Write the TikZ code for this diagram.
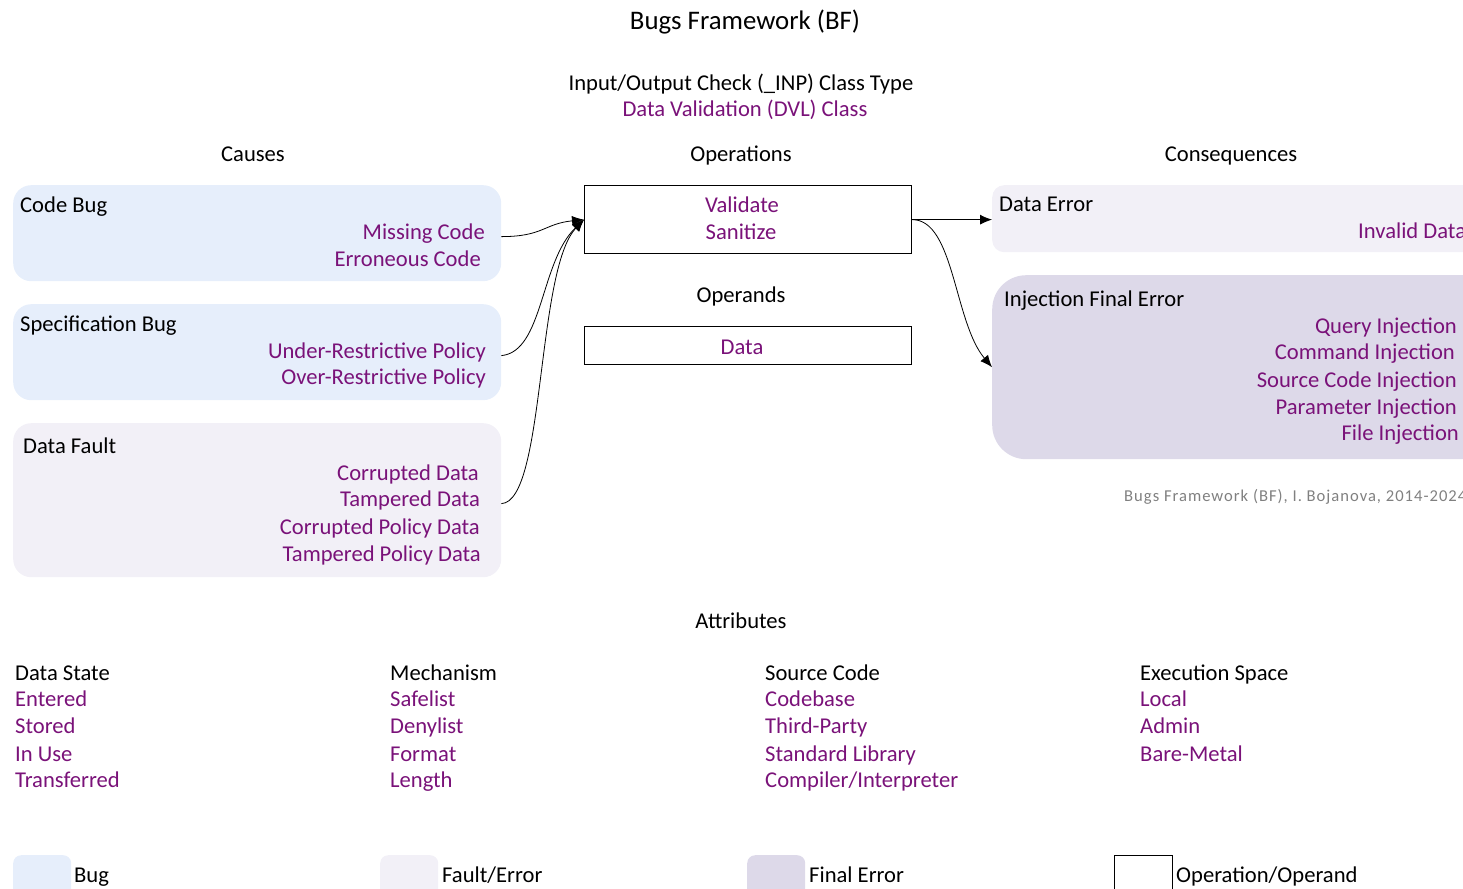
\documentclass[tikz,border=0pt]{standalone}
\usepackage{fontspec}
\setmainfont{Carlito}
\newfontfamily\footfont[LetterSpace=6]{Carlito}
\usetikzlibrary{arrows.meta}
\definecolor{bfpurple}{HTML}{7A1279}
\definecolor{bugfill}{HTML}{E6EEFB}
\definecolor{faultfill}{HTML}{F2F0F7}
\definecolor{finalfill}{HTML}{DDD9E9}
\definecolor{footgray}{HTML}{808080}

\begin{document}
\begin{tikzpicture}[x=1pt,y=-1pt,
  font=\fontsize{22.6}{27}\selectfont,
  lbl/.style={inner sep=0pt, anchor=base west},
  lblc/.style={inner sep=0pt, anchor=base},
  item/.style={inner sep=0pt, anchor=base east, text=bfpurple},
  itemw/.style={inner sep=0pt, anchor=base west, text=bfpurple},
  region/.style={anchor=north west, inner sep=0pt, draw=none},
  bugbox/.style={region, fill=bugfill, rounded corners=18pt},
  faultbox/.style={region, fill=faultfill, rounded corners=18pt},
  finalbox/.style={region, fill=finalfill, rounded corners=34pt},
  opbox/.style={region, draw=black, line width=1.3pt, fill=white},
  link/.style={-{Latex[length=12pt,width=10pt]}, line width=0.8pt},
  legendkey/.style={anchor=north west, inner sep=0pt, minimum width=58pt, minimum height=50pt, rounded corners=8pt}
]
\useasboundingbox (0,0) rectangle (1463,888);
\clip (0,0) rectangle (1463,888);

% headings
\node[lblc, font=\fontsize{26.8}{32}\selectfont] (title) at (745,30) {Bugs Framework (BF)};
\node[lblc] (classtype) at (741,91) {Input/Output Check (\_INP) Class Type};
\node[lblc, text=bfpurple] (class) at (745,117) {Data Validation (DVL) Class};
\node[lblc] (causes) at (253,161) {Causes};
\node[lblc] (operations) at (741,161) {Operations};
\node[lblc] (consequences) at (1231,161) {Consequences};

% causes
\node[bugbox, minimum width=488pt, minimum height=96pt] (codebug) at (13,185) {};
\node[lbl] (codebugT) at (20,212) {Code Bug};
\node[item] (missing) at (485,239) {Missing Code};
\node[item] (erroneous) at (481,266) {Erroneous Code};

\node[bugbox, minimum width=488pt, minimum height=96pt] (specbug) at (13,304) {};
\node[lbl] (specbugT) at (20,331) {Specification Bug};
\node[item] (under) at (486,358) {Under-Restrictive Policy};
\node[item] (over) at (486,384) {Over-Restrictive Policy};

\node[faultbox, minimum width=488pt, minimum height=154pt] (datafault) at (13,423) {};
\node[lbl] (datafaultT) at (23,453) {Data Fault};
\node[item] (corrupted) at (479,480) {Corrupted Data};
\node[item] (tampered) at (480,506) {Tampered Data};
\node[item] (corruptedpol) at (480,534) {Corrupted Policy Data};
\node[item] (tamperedpol) at (481,561) {Tampered Policy Data};

% operations and operands
\node[opbox, minimum width=327pt, minimum height=68pt] (validate) at (584,185) {};
\node[lblc, text=bfpurple] (validateT) at (742,212) {Validate};
\node[lblc, text=bfpurple] (sanitizeT) at (741,239) {Sanitize};
\node[lblc] (operands) at (741,302) {Operands};
\node[opbox, minimum width=327pt, minimum height=38pt] (data) at (584,326) {};
\node[lblc, text=bfpurple] (dataT) at (742,354) {Data};

% consequences
\node[faultbox, rounded corners=12pt, minimum width=520pt, minimum height=67pt] (dataerror) at (992,185) {};
\node[lbl] (dataerrorT) at (999,211) {Data Error};
\node[itemw] (invalid) at (1358,238) {Invalid Data};

\node[finalbox, minimum width=520pt, minimum height=184pt] (injection) at (992,275) {};
\node[lbl] (injectionT) at (1004,306) {Injection Final Error};
\node[item] (query) at (1457,333) {Query Injection};
\node[item] (command) at (1455,359) {Command Injection};
\node[item] (source) at (1457,387) {Source Code Injection};
\node[item] (parameter) at (1457,414) {Parameter Injection};
\node[item] (file) at (1459,440) {File Injection};

\node[lbl, font=\footfont\fontsize{16.6}{20}\selectfont, text=footgray] (credit) at (1124,501) {Bugs Framework (BF), I. Bojanova, 2014-2024};

% connectors
\draw[link] (codebug.east |- missing.mid) .. controls +(42,0) and +(-40,4) .. (validate.west);
\draw[link] (specbug.east |- under.mid) .. controls +(42,-4) and +(-44,42) .. (validate.west);
\draw[link] (datafault.east |- tampered.mid) .. controls +(44,-2) and +(-48,50) .. (validate.west);
\draw[link] (validate.east) -- (validate.east -| dataerror.west);
\draw[link] (validate.east) .. controls +(42,0) and +(-38,-45) .. (injection.west);

% attributes
\node[lblc] (attributes) at (741,628) {Attributes};

\node[lbl] (datastate) at (15,680) {Data State};
\node[itemw] (entered) at (15,706) {Entered};
\node[itemw] (stored) at (15,733) {Stored};
\node[itemw] (inuse) at (15,761) {In Use};
\node[itemw] (transferred) at (15,787) {Transferred};

\node[lbl] (mechanism) at (390,680) {Mechanism};
\node[itemw] (safelist) at (390,706) {Safelist};
\node[itemw] (denylist) at (390,733) {Denylist};
\node[itemw] (format) at (390,761) {Format};
\node[itemw] (length) at (390,787) {Length};

\node[lbl] (sourcecode) at (765,680) {Source Code};
\node[itemw] (codebase) at (765,706) {Codebase};
\node[itemw] (thirdparty) at (765,733) {Third-Party};
\node[itemw] (stdlib) at (765,761) {Standard Library};
\node[itemw] (compiler) at (765,787) {Compiler/Interpreter};

\node[lbl] (execspace) at (1140,680) {Execution Space};
\node[itemw] (local) at (1140,706) {Local};
\node[itemw] (admin) at (1140,733) {Admin};
\node[itemw] (baremetal) at (1140,761) {Bare-Metal};

% legend
\node[legendkey, fill=bugfill] (keybug) at (13,855) {};
\node[lbl] (keybugT) at (74,882) {Bug};
\node[legendkey, fill=faultfill] (keyfault) at (380,855) {};
\node[lbl] (keyfaultT) at (442,882) {Fault/Error};
\node[legendkey, fill=finalfill] (keyfinal) at (747,855) {};
\node[lbl] (keyfinalT) at (809,882) {Final Error};
\node[legendkey, rounded corners=0pt, draw=black, line width=1.3pt] (keyop) at (1114,855) {};
\node[lbl] (keyopT) at (1176,882) {Operation/Operand};
\end{tikzpicture}
\end{document}
